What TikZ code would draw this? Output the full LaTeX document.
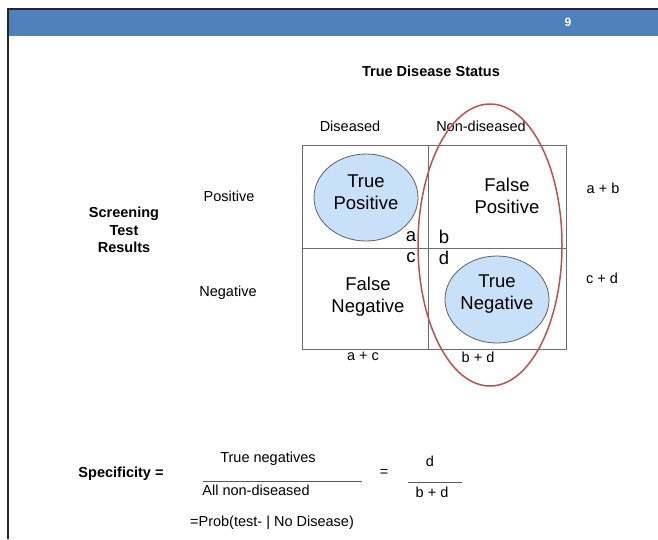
\documentclass[tikz,border=0pt]{standalone}
\usepackage{fontspec}
\setmainfont{Liberation Sans}
\definecolor{barblue}{HTML}{4F81BD}
\definecolor{cellblue}{HTML}{C9E1F8}
\definecolor{ovalred}{HTML}{C0504D}
\begin{document}
\begin{tikzpicture}[x=1pt,y=-1pt,
  lbl/.style={inner sep=0pt,font=\fontsize{14.5}{17.5}\selectfont,align=center},
  boldlbl/.style={lbl,font=\fontsize{14.5}{17.5}\selectfont\bfseries},
  big/.style={inner sep=0pt,font=\fontsize{18.5}{22}\selectfont,align=center},
  gridline/.style={draw=gray!85!black,line width=1pt},
  blob/.style={draw=gray!75!black,fill=cellblue,line width=0.8pt}]
\useasboundingbox (0,0) rectangle (658,539);
% header
\fill[barblue] (8,9) rectangle (658,36);
\draw[black!85,line width=1.5pt] (8,539) -- (8,9) -- (658,9);
\node[inner sep=0pt,text=white,font=\fontsize{12}{14}\selectfont\bfseries] (pg) at (568,22) {9};
% titles
\node[boldlbl] (tds) at (431,71) {True Disease  Status};
\node[lbl] (dis) at (350,126) {Diseased};
\node[lbl] (ndis) at (481,126) {Non-diseased};
\node[boldlbl] (str) at (124,230) {Screening\\Test\\Results};
\node[lbl] (pos) at (229,196) {Positive};
\node[lbl] (neg) at (228,293) {Negative};
% table
\draw[gridline] (302,145) rectangle (566,349);
\draw[gridline] (428,145) -- (428,349);
\draw[gridline] (302,248) -- (566,248);
% ellipses
\path[blob] (366,197.5) ellipse (52 and 43.5);
\path[blob] (497,299.5) ellipse (52 and 43.5);
\node[big] (tp) at (366,192) {True\\Positive};
\node[big] (fp) at (507,195.5) {False\\Positive};
\node[big] (fn) at (368,297) {False\\Negative};
\node[big] (tn) at (497,294) {True\\Negative};
\node[big] (ca) at (411,237) {a};
\node[big] (cb) at (444,237) {b};
\node[big] (cc) at (411,258) {c};
\node[big] (cd) at (444,258) {d};
% margins
\node[lbl] (ab) at (603,188) {a + b};
\node[lbl] (cdsum) at (602,278) {c + d};
\node[lbl] (ac) at (363,356) {a + c};
\node[lbl] (bd) at (478,357) {b + d};
% red oval
\draw[ovalred,line width=1.5pt] (490,245) ellipse (72 and 141);
% formula
\node[boldlbl] (spec) at (121,474) {Specificity =};
\node[lbl] (tnum) at (268,459) {True negatives};
\node[lbl] (tden) at (256,490) {All non-diseased};
\coordinate (f1a) at (203,481);
\coordinate (f1b) at (362,481);
\draw[gray!70!black,line width=0.8pt] (f1a) -- (f1b);
\node[lbl] (eq) at (384,473) {=};
\node[lbl] (dnum) at (430,461) {d};
\node[lbl] (dden) at (432,492) {b + d};
\coordinate (f2a) at (408,482);
\coordinate (f2b) at (462,482);
\draw[gray!70!black,line width=0.8pt] (f2a) -- (f2b);
\node[lbl] (prob) at (272,523) {=Prob(test- | No Disease)};
\end{tikzpicture}
\end{document}
